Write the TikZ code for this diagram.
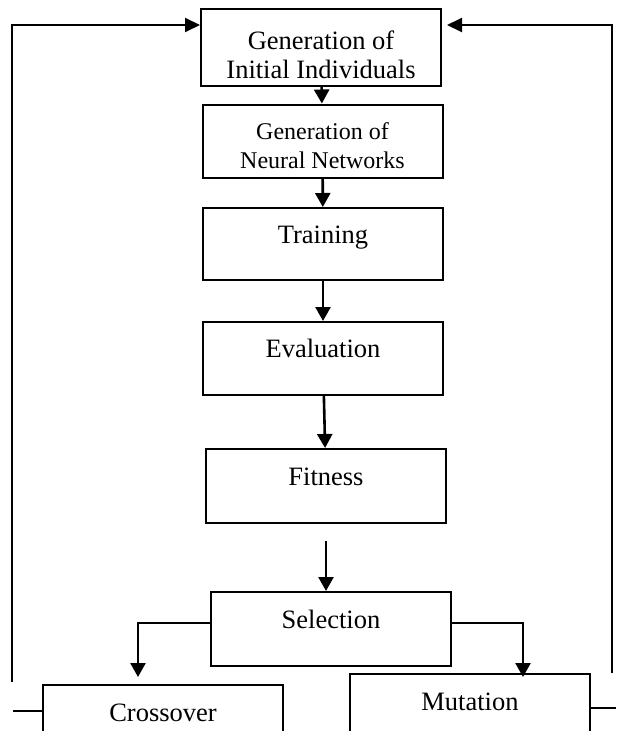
\documentclass[tikz,border=0pt]{standalone}
\usepackage{fontspec}
\setmainfont{Liberation Serif}
\usetikzlibrary{arrows.meta}

\begin{document}
\begin{tikzpicture}[x=1pt, y=-1pt,
   stage/.style ={rectangle, draw, line width=2pt, minimum width=240pt, minimum height=74pt, inner sep=0pt,
                  font=\fontsize{26.5}{28.5}\selectfont, text height=17.5pt, text depth=19pt},
   twostage/.style ={stage, align=center, text depth=0pt},
   flow/.style ={line width=2.6pt, -{Triangle[length=14pt, width=15pt]}},
   feedback/.style ={line width=2pt}]
   \useasboundingbox (0,0) rectangle (616,731);
   \clip (0,0) rectangle (616,731);

   \node[twostage, minimum height=77pt, text height=61pt] (init)  at (321,47.5)  {Generation of\\Initial Individuals};
   \node[twostage, minimum height=73pt, text height=54pt, font=\fontsize{24}{29}\selectfont] (nets)  at (322.5,141)  {Generation of\\Neural Networks};
   \node[stage, minimum height=72pt] (train)  at (323,244)  {Training};
   \node[stage, minimum height=73pt] (eval)  at (323,358.5)  {Evaluation};
   \node[stage] (fit)  at (326,486)  {Fitness};
   \node[stage] (sel)  at (331,629)  {Selection};
   \node[stage] (cross)  at (163,722)  {Crossover};
   \node[stage] (mut)  at (470,711)  {Mutation};

   \coordinate (lbend) at (138,623);
   \coordinate (rbend) at (523,623);
   \coordinate (lstub) at (13,711);
   \coordinate (lfoot) at (12,682);
   \coordinate (ltop) at (12,25);
   \coordinate (rstub) at (616,708);
   \coordinate (rfoot) at (612,673);
   \coordinate (rtop) at (612,25);

   \draw[flow] (init) to  (nets);
   \draw[flow] (nets) to  (train);
   \draw[flow] (train) to  (eval);
   \draw[flow] (eval) to  (fit);
   \draw[flow, shorten <=17pt] (fit.south) to  (fit.south |- sel.north);

   \draw[flow, shorten >=7pt] (sel.west |- lbend) -- (lbend) -- (lbend |- cross.north);
   \draw[flow, shorten >=-4pt] (sel.east |- rbend) -- (rbend) -- (rbend |- mut.north);

   \draw[feedback] (cross.west |- lstub) -- (lstub);
   \draw[feedback, -{Triangle[length=15pt, width=14pt]}] (lfoot) -- (ltop) -- (ltop -| init.west);
   \draw[feedback] (mut.east |- rstub) -- (rstub);
   \draw[feedback, shorten >=5pt, -{Triangle[length=15pt, width=14pt]}] (rfoot) -- (rtop) -- (rtop -| init.east);
 \end{tikzpicture}
\end{document}
